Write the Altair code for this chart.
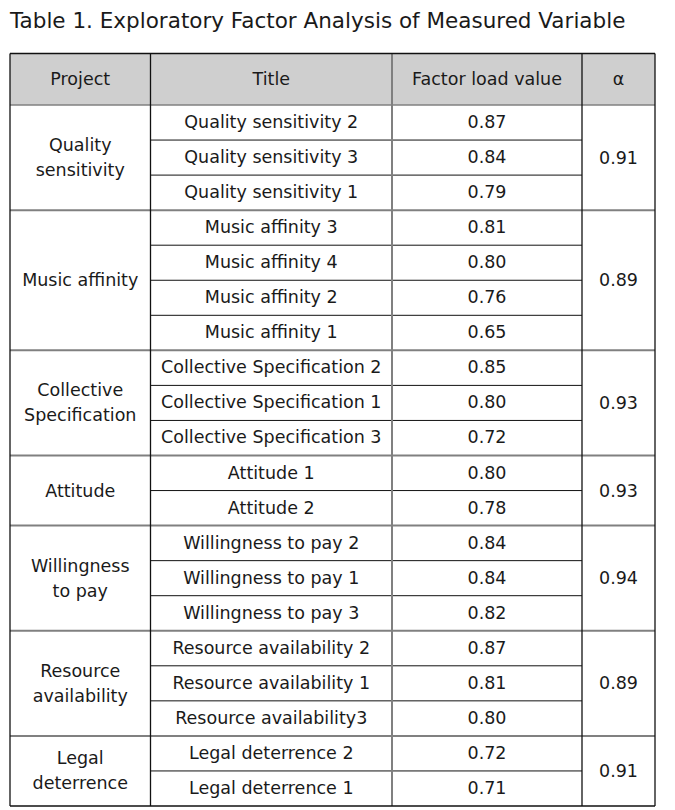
import altair as alt
import pandas as pd

# ---------------- data ----------------
TITLE = "Table 1. Exploratory Factor Analysis of Measured Variable"
headers = ["Project", "Title", "Factor load value", "α"]
projects = ["Quality\nsensitivity", "Music affinity", "Collective\nSpecification",
            "Attitude", "Willingness\nto pay", "Resource\navailability", "Legal\ndeterrence"]
items = [
    ["Quality sensitivity 2", "Quality sensitivity 3", "Quality sensitivity 1"],
    ["Music affinity 3", "Music affinity 4", "Music affinity 2", "Music affinity 1"],
    ["Collective Specification 2", "Collective Specification 1", "Collective Specification 3"],
    ["Attitude 1", "Attitude 2"],
    ["Willingness to pay 2", "Willingness to pay 1", "Willingness to pay 3"],
    ["Resource availability 2", "Resource availability 1", "Resource availability3"],
    ["Legal deterrence 2", "Legal deterrence 1"],
]
loads = [
    [0.87, 0.84, 0.79],
    [0.81, 0.80, 0.76, 0.65],
    [0.85, 0.80, 0.72],
    [0.80, 0.78],
    [0.84, 0.84, 0.82],
    [0.87, 0.81, 0.80],
    [0.72, 0.71],
]
alphas = [0.91, 0.89, 0.93, 0.93, 0.94, 0.89, 0.91]

# ---------------- layout ----------------
W, H = 659, 799
X_EDGES = [10, 150.5, 392, 582, 655]
TOP, HEAD_BOT, BOTTOM = 53.5, 105, 806
n_rows = sum(len(g) for g in items)
ROW_H = (BOTTOM - HEAD_BOT) / n_rows
LINE_H = 25
BLACK, GRAY, FILL, TXT = "#111111", "#808080", "#cfcfcf", "#1a1a1a"
FONT = "DejaVu Sans"

xs = alt.Scale(domain=[8, 8 + W], range=[0, W], zero=False, nice=False)
ys = alt.Scale(domain=[8, 8 + H], range=[0, H], zero=False, nice=False)

rules = []
def rule(x, x2, y, y2, c, w):
    rules.append(dict(x=x, x2=x2, y=y, y2=y2, c=c, w=w))

texts = []
def text(x, y, t, size=17.5, align="center"):
    n = t.count("\n")
    texts.append(dict(x=x, y=y - n * LINE_H / 2, t=t, s=size, a=align))

for i, h in enumerate(headers):
    text((X_EDGES[i] + X_EDGES[i + 1]) / 2, (TOP + HEAD_BOT) / 2 + 1, h)

row = 0
for g, (p, its, lds, a) in enumerate(zip(projects, items, loads, alphas)):
    g_top = HEAD_BOT + row * ROW_H
    g_bot = g_top + len(its) * ROW_H
    g_mid = (g_top + g_bot) / 2 + 1
    text((X_EDGES[0] + X_EDGES[1]) / 2, g_mid, p)
    text((X_EDGES[3] + X_EDGES[4]) / 2, g_mid, f"{a:.2f}")
    for k, (it, ld) in enumerate(zip(its, lds)):
        r_top = g_top + k * ROW_H
        r_mid = r_top + ROW_H / 2 + 0.5
        text((X_EDGES[1] + X_EDGES[2]) / 2, r_mid, it)
        text((X_EDGES[2] + X_EDGES[3]) / 2, r_mid, f"{ld:.2f}")
        if k > 0:
            rule(X_EDGES[1], X_EDGES[3], r_top, r_top, BLACK, 1)
    if g > 0:
        rule(X_EDGES[0], X_EDGES[4], g_top, g_top, GRAY, 2)
    row += len(its)

rule(X_EDGES[0], X_EDGES[4], HEAD_BOT, HEAD_BOT, GRAY, 1.5)
rule(X_EDGES[1], X_EDGES[1], TOP, BOTTOM, BLACK, 1.3)
rule(X_EDGES[2], X_EDGES[2], TOP, BOTTOM, GRAY, 2)
rule(X_EDGES[3], X_EDGES[3], TOP, BOTTOM, BLACK, 1.3)
rule(X_EDGES[0], X_EDGES[4], TOP, TOP, BLACK, 1.3)
rule(X_EDGES[0], X_EDGES[4], BOTTOM, BOTTOM, BLACK, 1.3)
rule(X_EDGES[0], X_EDGES[0], TOP, BOTTOM, BLACK, 1.3)
rule(X_EDGES[4], X_EDGES[4], TOP, BOTTOM, BLACK, 1.3)

text(10, 21.5, TITLE, size=21.5, align="left")

rdf = pd.DataFrame(rules)
tdf = pd.DataFrame(texts)
hdf = pd.DataFrame([dict(x=X_EDGES[0], x2=X_EDGES[4], y=TOP, y2=HEAD_BOT)])

header_bg = alt.Chart(hdf).mark_rect(color=FILL).encode(
    x=alt.X("x:Q", scale=xs, axis=None), x2="x2:Q",
    y=alt.Y("y:Q", scale=ys, axis=None), y2="y2:Q")

lines = alt.Chart(rdf).mark_rule().encode(
    x=alt.X("x:Q", scale=xs, axis=None), x2="x2:Q",
    y=alt.Y("y:Q", scale=ys, axis=None), y2="y2:Q",
    color=alt.Color("c:N", scale=None),
    strokeWidth=alt.StrokeWidth("w:Q", scale=None))

center_txt = alt.Chart(tdf[tdf.a == "center"]).mark_text(
    align="center", baseline="middle", font=FONT, color=TXT, lineBreak="\n", lineHeight=LINE_H
).encode(
    x=alt.X("x:Q", scale=xs, axis=None), y=alt.Y("y:Q", scale=ys, axis=None),
    text="t:N", size=alt.Size("s:Q", scale=None))

left_txt = alt.Chart(tdf[tdf.a == "left"]).mark_text(
    align="left", baseline="middle", font=FONT, color=TXT
).encode(
    x=alt.X("x:Q", scale=xs, axis=None), y=alt.Y("y:Q", scale=ys, axis=None),
    text="t:N", size=alt.Size("s:Q", scale=None))

chart = alt.layer(header_bg, lines, center_txt, left_txt).properties(
    width=W, height=H, padding=0, autosize=alt.AutoSizeParams(type="none"),
    background="white"
).configure_view(stroke=None)

chart.save("out.html", embed_options={"renderer": "svg", "actions": False})
